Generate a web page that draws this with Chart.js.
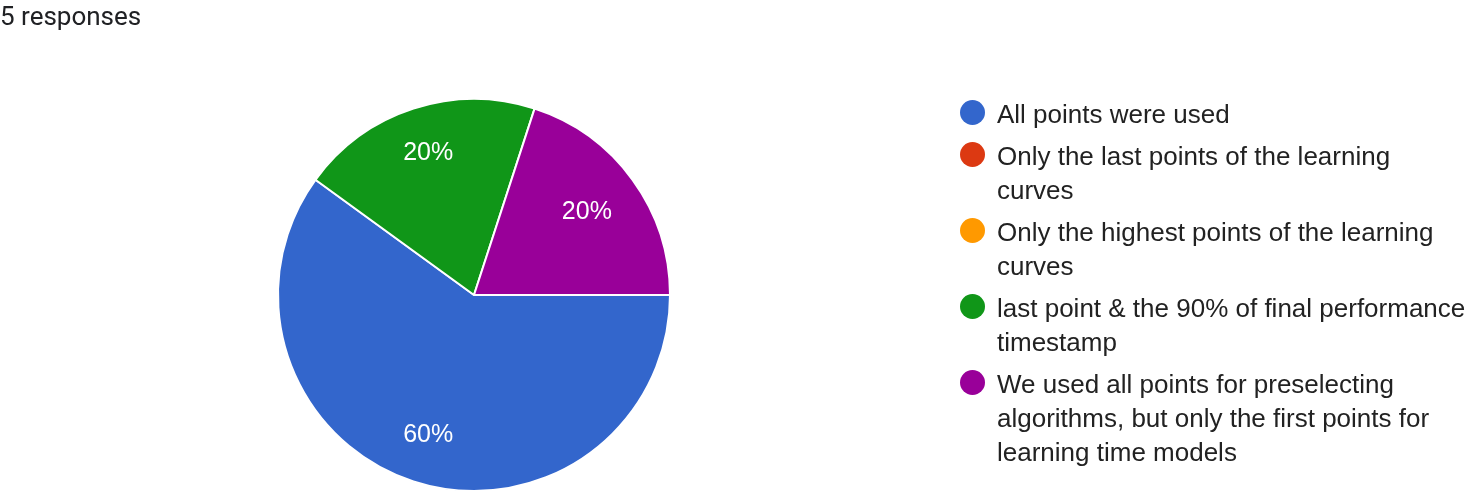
<!DOCTYPE html>
<html>
<head>
<meta charset="utf-8">
<script src="https://cdn.jsdelivr.net/npm/chart.js@4/dist/chart.umd.min.js"></script>
<style>
  html, body { margin: 0; padding: 0; background: #fff; }
  #wrap { position: relative; width: 1474px; height: 498px; }
  canvas { display: block; }
</style>
</head>
<body>
<div id="wrap"><canvas id="c" width="1474" height="498"></canvas></div>
<script>
const title = '5 responses';
const categories = [
  'All points were used',
  'Only the last points of the learning curves',
  'Only the highest points of the learning curves',
  'last point & the 90% of final performance timestamp',
  'We used all points for preselecting algorithms, but only the first points for learning time models'
];
const responses = [3, 0, 0, 1, 1];
const colors = ['#3366cc', '#dc3912', '#ff9900', '#109618', '#990099'];

const LEGEND_X = 997, LEGEND_MAXW = 476, LEGEND_FIRST_BASE = 123, LINE_H = 34, ITEM_GAP = 42;
const LEGEND_FONT = '26px "Liberation Sans", Arial, sans-serif';
const PCT_FONT = '25px "Liberation Sans", Arial, sans-serif';

function wrap(ctx, text, maxW) {
  const words = text.split(' ');
  const lines = [];
  let cur = '';
  for (const w of words) {
    const t = cur ? cur + ' ' + w : w;
    if (cur && ctx.measureText(t).width > maxW) { lines.push(cur); cur = w; }
    else cur = t;
  }
  if (cur) lines.push(cur);
  return lines;
}

const overlay = {
  id: 'overlay',
  afterDatasetsDraw(chart) {
    const ctx = chart.ctx;
    ctx.save();
    // percentage labels
    const meta = chart.getDatasetMeta(0);
    const total = responses.reduce((a, b) => a + b, 0);
    ctx.font = PCT_FONT;
    ctx.fillStyle = '#ffffff';
    ctx.textAlign = 'center';
    ctx.textBaseline = 'middle';
    meta.data.forEach((arc, i) => {
      if (!responses[i]) return;
      const p = arc.getProps(['x', 'y', 'startAngle', 'endAngle', 'outerRadius'], true);
      const mid = (p.startAngle + p.endAngle) / 2;
      const pct = Math.round(responses[i] / total * 1000) / 10 + '%';
      const hw = ctx.measureText(pct).width / 2, hh = 10;
      const c = Math.cos(mid), s = Math.sin(mid);
      const r = p.outerRadius * 0.845 - (hw * Math.abs(c) + hh * Math.abs(s));
      ctx.fillText(pct, p.x + c * r, p.y + s * r - 1);
    });
    // title
    ctx.font = '26px Roboto, "Liberation Sans", Arial, sans-serif';
    ctx.fillStyle = '#202124';
    ctx.textAlign = 'left';
    ctx.textBaseline = 'alphabetic';
    ctx.fillText(title, 0, 25);
    // legend
    ctx.font = LEGEND_FONT;
    let base = LEGEND_FIRST_BASE;
    categories.forEach((cat, i) => {
      const lines = wrap(ctx, cat, LEGEND_MAXW);
      ctx.beginPath();
      ctx.fillStyle = colors[i];
      ctx.arc(972.5, base - 10.5, 12.5, 0, Math.PI * 2);
      ctx.fill();
      ctx.fillStyle = '#222222';
      lines.forEach((ln, k) => ctx.fillText(ln, LEGEND_X, base + k * LINE_H));
      base += (lines.length - 1) * LINE_H + ITEM_GAP;
    });
    ctx.restore();
  }
};

new Chart(document.getElementById('c'), {
  type: 'pie',
  data: {
    labels: categories,
    datasets: [{
      data: responses,
      backgroundColor: colors,
      borderColor: '#ffffff',
      borderWidth: 2
    }]
  },
  options: {
    responsive: false,
    animation: false,
    rotation: 90,
    layout: { padding: { left: 277, right: 803, top: 98, bottom: 6 } },
    plugins: { legend: { display: false }, tooltip: { enabled: false }, title: { display: false } }
  },
  plugins: [overlay]
});
</script>
</body>
</html>
